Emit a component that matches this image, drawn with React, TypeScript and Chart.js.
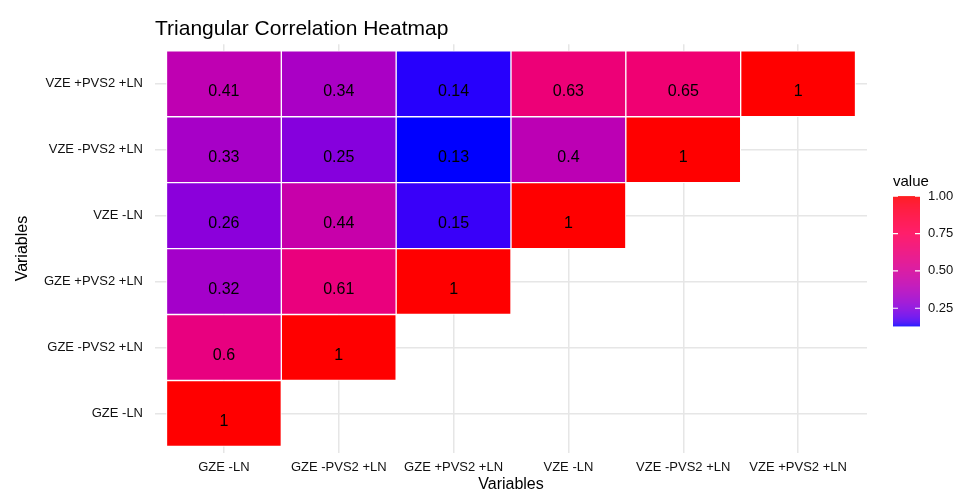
import React, { useEffect, useRef } from 'react';
import { Chart, registerables } from 'chart.js';

Chart.register(...registerables);

// ---- data ----
const columnLabels = ['GZE -LN', 'GZE -PVS2 +LN', 'GZE +PVS2 +LN', 'VZE -LN', 'VZE -PVS2 +LN', 'VZE +PVS2 +LN'];
// row labels from bottom (y = 1) to top (y = 6)
const rowLabels = ['GZE -LN', 'GZE -PVS2 +LN', 'GZE +PVS2 +LN', 'VZE -LN', 'VZE -PVS2 +LN', 'VZE +PVS2 +LN'];

const rowGZE_LN = [1];
const rowGZE_mPVS2_LN = [0.6, 1];
const rowGZE_pPVS2_LN = [0.32, 0.61, 1];
const rowVZE_LN = [0.26, 0.44, 0.15, 1];
const rowVZE_mPVS2_LN = [0.33, 0.25, 0.13, 0.4, 1];
const rowVZE_pPVS2_LN = [0.41, 0.34, 0.14, 0.63, 0.65, 1];

const rows = [rowGZE_LN, rowGZE_mPVS2_LN, rowGZE_pPVS2_LN, rowVZE_LN, rowVZE_mPVS2_LN, rowVZE_pPVS2_LN];

const legendTicks = [0.25, 0.5, 0.75, 1.0];
const legendTitle = 'value';
const chartTitle = 'Triangular Correlation Heatmap';
const axisTitle = 'Variables';

// ---- colour scale (Lab interpolation, blue -> red) ----
const LOW = [0, 0, 255];
const HIGH = [255, 0, 0];
const RED_GAIN = 1.12;

function toLin(c: number) {
  const v = c / 255;
  return v <= 0.04045 ? v / 12.92 : Math.pow((v + 0.055) / 1.055, 2.4);
}
function fromLin(v: number) {
  const c = v <= 0.0031308 ? 12.92 * v : 1.055 * Math.pow(v, 1 / 2.4) - 0.055;
  return Math.max(0, Math.min(255, c * 255));
}
const XN = 0.95047, YN = 1, ZN = 1.08883;
function rgbToLab(rgb: number[]) {
  const r = toLin(rgb[0]), g = toLin(rgb[1]), b = toLin(rgb[2]);
  const X = 0.4124 * r + 0.3576 * g + 0.1805 * b;
  const Y = 0.2126 * r + 0.7152 * g + 0.0722 * b;
  const Z = 0.0193 * r + 0.1192 * g + 0.9505 * b;
  const f = (t: number) => (t > 0.008856 ? Math.cbrt(t) : 7.787 * t + 16 / 116);
  const fx = f(X / XN), fy = f(Y / YN), fz = f(Z / ZN);
  return [116 * fy - 16, 500 * (fx - fy), 200 * (fy - fz)];
}
function labToRgb(lab: number[]) {
  const fy = (lab[0] + 16) / 116;
  const fx = fy + lab[1] / 500;
  const fz = fy - lab[2] / 200;
  const finv = (t: number) => (t * t * t > 0.008856 ? t * t * t : (t - 16 / 116) / 7.787);
  const X = finv(fx) * XN, Y = finv(fy) * YN, Z = finv(fz) * ZN;
  const r = 3.2406 * X - 1.5372 * Y - 0.4986 * Z;
  const g = -0.9689 * X + 1.8758 * Y + 0.0415 * Z;
  const b = 0.0557 * X - 0.204 * Y + 1.057 * Z;
  return [fromLin(r), fromLin(g), fromLin(b)];
}
const LAB_LOW = rgbToLab(LOW);
const LAB_HIGH = rgbToLab(HIGH);

const allValues = rows.flat();
const vMin = Math.min(...allValues);
const vMax = Math.max(...allValues);

function colorFor(v: number) {
  const t = Math.max(0, Math.min(1, (v - vMin) / (vMax - vMin)));
  const lab = [0, 1, 2].map((i) => LAB_LOW[i] + (LAB_HIGH[i] - LAB_LOW[i]) * t);
  const [r, g, b] = labToRgb(lab);
  const rr = Math.round(Math.min(255, r * RED_GAIN));
  return `rgb(${rr},${Math.round(g)},${Math.round(b)})`;
}

const FONT = "'Liberation Sans', Arial, Helvetica, sans-serif";

export default function App() {
  const ref = useRef<HTMLCanvasElement | null>(null);

  useEffect(() => {
    if (!ref.current) return;
    const points: { x: number; y: number[]; v: number }[] = [];
    rows.forEach((vals, ri) => {
      vals.forEach((v, ci) => {
        points.push({ x: ci + 1, y: [ri + 0.5, ri + 1.5], v });
      });
    });

    const valueLabels = {
      id: 'valueLabels',
      afterDatasetsDraw(chart: any) {
        const ctx = chart.ctx;
        const meta = chart.getDatasetMeta(0);
        ctx.save();
        ctx.font = `16px ${FONT}`;
        ctx.fillStyle = '#000';
        ctx.textAlign = 'center';
        ctx.textBaseline = 'middle';
        meta.data.forEach((el: any, i: number) => {
          const p = el.getProps(['x', 'y', 'base'], true);
          const cy = (p.y + p.base) / 2 + 8;
          ctx.fillText(String(points[i].v), p.x, cy);
        });
        ctx.restore();
      },
    };

    const colorbar = {
      id: 'colorbar',
      afterDraw(chart: any) {
        const ctx = chart.ctx;
        const area = chart.chartArea;
        const left = area.right + 26;
        const w = 27;
        const top = area.top + 152;
        const h = 130;
        ctx.save();
        for (let i = 0; i < h; i++) {
          const v = vMax - ((i + 0.5) / h) * (vMax - vMin);
          ctx.fillStyle = colorFor(v);
          ctx.fillRect(left, top + i, w, 1.2);
        }
        ctx.font = `15px ${FONT}`;
        ctx.fillStyle = '#000';
        ctx.textAlign = 'left';
        ctx.textBaseline = 'alphabetic';
        ctx.fillText(legendTitle, left, top - 10);
        ctx.font = `13px ${FONT}`;
        ctx.textBaseline = 'middle';
        legendTicks.forEach((t) => {
          const y = top + ((vMax - t) / (vMax - vMin)) * h;
          ctx.strokeStyle = '#fff';
          ctx.lineWidth = 1.2;
          ctx.beginPath();
          ctx.moveTo(left, y);
          ctx.lineTo(left + 5, y);
          ctx.moveTo(left + w - 5, y);
          ctx.lineTo(left + w, y);
          ctx.stroke();
          ctx.fillStyle = '#111';
          ctx.fillText(t.toFixed(2), left + w + 8, y);
        });
        ctx.restore();
      },
    };

    const chart = new Chart(ref.current, {
      type: 'bar',
      data: {
        datasets: [
          {
            data: points as any,
            backgroundColor: points.map((p) => colorFor(p.v)),
            borderColor: '#ffffff',
            borderWidth: 1,
            borderSkipped: false,
            barPercentage: 1,
            categoryPercentage: 1,
          },
        ],
      },
      options: {
        animation: false,
        responsive: false,
        maintainAspectRatio: false,
        layout: { padding: { left: 0, right: 90, top: 0, bottom: 0 } },
        plugins: {
          legend: { display: false },
          tooltip: { enabled: false },
          title: {
            display: true,
            text: chartTitle,
            align: 'start',
            fullSize: false,
            color: '#000',
            font: { family: FONT, size: 21, weight: 'normal', lineHeight: 1.2 },
            padding: { top: 17, bottom: 2 },
          },
        },
        scales: {
          x: {
            type: 'linear',
            min: 0.4,
            max: 6.6,
            offset: false,
            afterBuildTicks: (scale: any) => {
              scale.ticks = columnLabels.map((_, i) => ({ value: i + 1 }));
            },
            afterFit: (scale: any) => {
              scale.height = 41;
            },
            ticks: {
              autoSkip: false,
              maxRotation: 0,
              padding: 7,
              color: '#111',
              font: { family: FONT, size: 13 },
              callback: (v: any) => columnLabels[Math.round(v) - 1] ?? '',
            },
            grid: { color: '#e6e6e6', lineWidth: 1.5, drawTicks: false, offset: false },
            border: { display: false },
            title: {
              display: true,
              text: axisTitle,
              color: '#000',
              font: { family: FONT, size: 16, lineHeight: 1.2 },
              padding: { top: 0, bottom: 0 },
            },
          },
          y: {
            type: 'linear',
            min: 0.4,
            max: 6.6,
            offset: false,
            afterBuildTicks: (scale: any) => {
              scale.ticks = rowLabels.map((_, i) => ({ value: i + 1 }));
            },
            afterFit: (scale: any) => {
              scale.width = 155;
            },
            ticks: {
              autoSkip: false,
              padding: 12,
              color: '#111',
              font: { family: FONT, size: 13 },
              callback: (v: any) => rowLabels[Math.round(v) - 1] ?? '',
            },
            grid: { color: '#e6e6e6', lineWidth: 1.5, drawTicks: false, offset: false },
            border: { display: false },
            title: {
              display: true,
              text: axisTitle,
              color: '#000',
              font: { family: FONT, size: 16, lineHeight: 1.2 },
              padding: { top: 13, bottom: 0 },
            },
          },
        },
      } as any,
      plugins: [valueLabels, colorbar],
    });
    return () => chart.destroy();
  }, []);

  return (
    <div style={{ position: 'fixed', left: 0, top: 0, width: 957, height: 494, background: '#fff' }}>
      <canvas ref={ref} width={957} height={494} style={{ width: 957, height: 494 }} />
    </div>
  );
}
